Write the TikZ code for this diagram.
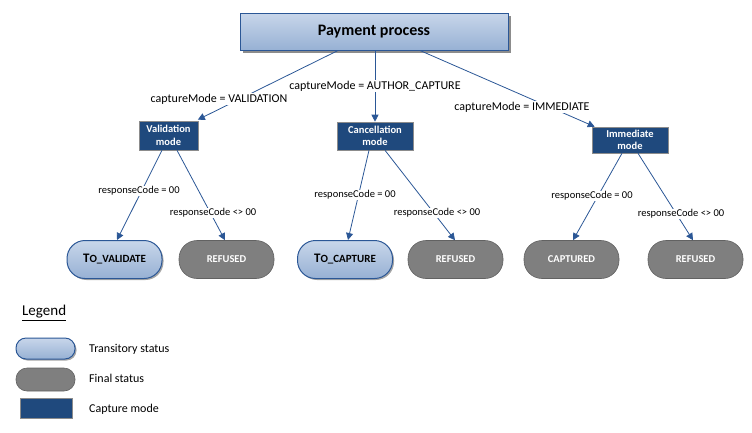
\documentclass[tikz,border=0pt]{standalone}
\usepackage{fontspec}
\setmainfont{Carlito}
\usetikzlibrary{arrows.meta,shadows}
\definecolor{modeblue}{HTML}{1F497D}
\definecolor{lineblue}{HTML}{2B5796}
\definecolor{pillgray}{HTML}{7F7F7F}
\definecolor{pillgrayb}{HTML}{626262}
\definecolor{ltop}{HTML}{C8D6EA}
\definecolor{lbot}{HTML}{97B1D4}
\begin{document}
\begin{tikzpicture}[x=1pt,y=-1pt,
  procbox/.style={draw=lineblue,line width=1pt,top color=ltop,bottom color=lbot,
    minimum width=268pt,minimum height=37pt,inner sep=0pt,
    font=\fontsize{16}{19}\selectfont\bfseries,
    drop shadow={shadow xshift=3pt,shadow yshift=-3pt,fill=black!45,opacity=1}},
  modebox/.style={draw=black!45,line width=0.6pt,fill=modeblue,text=white,align=center,
    inner sep=0pt,font=\fontsize{10.5}{12.5}\selectfont\bfseries},
  transit/.style={draw=lineblue,line width=1pt,top color=ltop,bottom color=lbot,
    rounded corners=#1,inner sep=0pt,
    drop shadow={shadow xshift=1.5pt,shadow yshift=-1.5pt,fill=black!35,opacity=1}},
  transit/.default=18pt,
  final/.style={draw=pillgrayb,line width=0.6pt,fill=pillgray,text=white,
    rounded corners=#1,inner sep=0pt},
  final/.default=18pt,
  pillfont/.style={font=\fontsize{10.5}{12}\selectfont\bfseries},
  conn/.style={draw=lineblue,line width=0.8pt,-{Triangle[length=7pt,width=7pt]}},
  clabel/.style={fill=white,inner sep=1pt,font=\fontsize{12}{14}\selectfont},
  rlabel/.style={fill=white,inner sep=1pt,font=\fontsize{10.5}{12}\selectfont},
  legtext/.style={anchor=west,inner sep=0pt,font=\fontsize{12}{14}\selectfont}]
\useasboundingbox (0,0) rectangle (752,432);

% main process
\node[procbox] (pay) at (374,31.5) {Payment process};

% mode boxes
\node[modebox,minimum width=59pt,minimum height=29pt] (val) at (168.5,135.5) {Validation\\mode};
\node[modebox,minimum width=76pt,minimum height=28pt] (can) at (375,136) {Cancellation\\mode};
\node[modebox,minimum width=76pt,minimum height=26pt] (imm) at (630,140) {Immediate\\mode};

% status pills
\node[transit,pillfont,minimum width=95pt,minimum height=38pt] (tov) at (114.5,259.5)
  {{\fontsize{13}{14}\selectfont T}{\fontsize{11}{12}\selectfont O\_VALIDATE}};
\node[final,pillfont,minimum width=95pt,minimum height=38pt] (ref1) at (226.5,259.5) {REFUSED};
\node[transit,pillfont,minimum width=95pt,minimum height=38pt] (toc) at (345,259.5)
  {{\fontsize{13}{14}\selectfont T}{\fontsize{11}{12}\selectfont O\_CAPTURE}};
\node[final,pillfont,minimum width=95pt,minimum height=38pt] (ref2) at (455.5,259.5) {REFUSED};
\node[final,pillfont,minimum width=95pt,minimum height=38pt] (capd) at (571.5,259.5) {CAPTURED};
\node[final,pillfont,minimum width=95pt,minimum height=38pt] (ref3) at (695.5,259.5) {REFUSED};

% connectors from process
\draw[conn] ([xshift=-36pt]pay.south) -- ([xshift=-0.5pt,yshift=1pt]val.north east);
\draw[conn] ([xshift=1pt]pay.south) -- ([xshift=0pt]can.north);
\draw[conn] ([xshift=46pt]pay.south) -- ([xshift=3pt]imm.north west);

% connectors from modes
\draw[conn] ([xshift=-6.5pt]val.south) -- ([xshift=2.5pt]tov.north);
\draw[conn] ([xshift=8.5pt]val.south) -- ([xshift=-1.5pt]ref1.north);
\draw[conn] ([xshift=-6pt]can.south) -- ([xshift=3pt]toc.north);
\draw[conn] ([xshift=10pt]can.south) -- ([xshift=-0.5pt]ref2.north);
\draw[conn] ([xshift=-8pt]imm.south) -- ([xshift=1.5pt]capd.north);
\draw[conn] ([xshift=8pt]imm.south) -- ([xshift=-2.5pt]ref3.north);

% labels
\node[clabel] (l1) at (219,99) {captureMode = VALIDATION};
\node[clabel] (l2) at (375,86) {captureMode = AUTHOR\_CAPTURE};
\node[clabel] (l3) at (522,107) {captureMode = IMMEDIATE};
\node[rlabel] (r1) at (139,191) {responseCode = 00};
\node[rlabel] (r2) at (213,213) {responseCode <> 00};
\node[rlabel] (r3) at (355,195) {responseCode = 00};
\node[rlabel] (r4) at (437,213) {responseCode <> 00};
\node[rlabel] (r5) at (592,196) {responseCode = 00};
\node[rlabel] (r6) at (681,214) {responseCode <> 00};

% legend
\node[anchor=west,inner sep=0pt,font=\fontsize{15}{18}\selectfont] (leg) at (22,313) {\underline{Legend}};
\node[transit=10pt,minimum width=59pt,minimum height=21pt] (lt) at (45.5,348.5) {};
\node[final=11pt,minimum width=59pt,minimum height=23pt] (lf) at (45.5,379.5) {};
\node[modebox,minimum width=52pt,minimum height=20pt] (lm) at (46,408) {};
\node[legtext] (ltt) at (89,349) {Transitory status};
\node[legtext] (lft) at (89,378.5) {Final status};
\node[legtext] (lmt) at (89,409) {Capture mode};
\end{tikzpicture}
\end{document}
